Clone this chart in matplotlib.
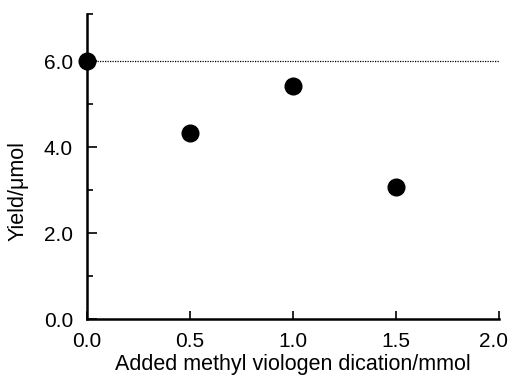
import matplotlib
matplotlib.use('Agg')
from matplotlib import pyplot as plt
from matplotlib.transforms import ScaledTranslation

plt.rcParams['font.family'] = ['Liberation Sans', 'DejaVu Sans']

methyl_viologen = [0.0, 0.5, 1.0, 1.5]
yield_umol = [6.0, 4.33, 5.43, 3.07]
ref_x = [0.0, 2.0]
ref_y = [6.0, 6.0]

fig = plt.figure(figsize=(5.1, 3.78), dpi=100)
ax = fig.add_axes([0.1706, 0.156, 0.808, 0.807])

ax.plot(ref_x, ref_y, color='black', linestyle=(0, (1, 1)), linewidth=0.9)
ax.plot(methyl_viologen, yield_umol, marker='o', markersize=12, color='black',
        linestyle='None', clip_on=False, zorder=5)

ax.set_xlim(0, 2.0)
ax.set_ylim(0, 7.1)
ax.set_xticks([0.0, 0.5, 1.0, 1.5, 2.0])
ax.set_yticks([0.0, 2.0, 4.0, 6.0])
ax.set_yticks([1.0, 3.0, 5.0, 7.1], minor=True)
ax.set_xticklabels(['0.0', '0.5', '1.0', '1.5', '2.0'])
ax.set_yticklabels(['0.0', '2.0', '4.0', '6.0'])

for side in ['top', 'right']:
    ax.spines[side].set_visible(False)
for side in ['left', 'bottom']:
    ax.spines[side].set_linewidth(1.8)

ax.tick_params(axis='both', which='major', direction='in', width=1.2,
               labelsize=15)
ax.tick_params(axis='y', which='major', length=7, pad=10)
ax.tick_params(axis='x', which='major', length=6, pad=9)
ax.tick_params(axis='y', which='minor', direction='in', length=4, width=1.2)

# last x label sits a little left so it stays inside the figure
last = ax.get_xticklabels()[-1]
last.set_transform(last.get_transform() + ScaledTranslation(-6 / 100, 0, fig.dpi_scale_trans))

ax.set_xlabel('Added methyl viologen dication/mmol', fontsize=15.5)
ax.xaxis.set_label_coords(0.5, -0.115)
ax.set_ylabel('Yield/μmol', fontsize=15.5)
ax.yaxis.set_label_coords(-0.143, 0.42)

fig.savefig('out.png', dpi=100)
